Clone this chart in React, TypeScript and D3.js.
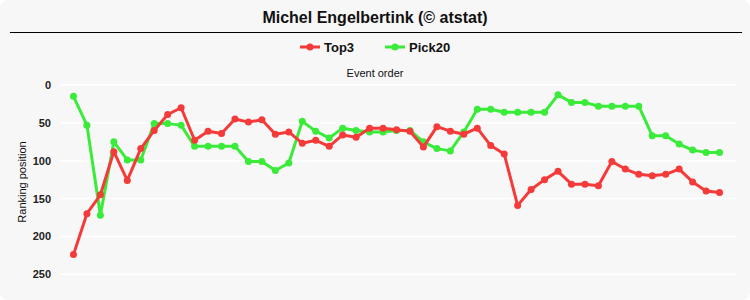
import React from "react";
import * as d3 from "d3";

const title = "Michel Engelbertink (© atstat)";
const seriesNames = ["Top3", "Pick20"];
const seriesColors = ["#f53a3a", "#3aeb3a"];
const yTicks = [0, 50, 100, 150, 200, 250];

const top3 = [224, 170, 145, 88, 126, 84, 60, 39, 30, 73, 61, 64, 45, 49, 46, 65, 62, 77, 73, 81, 66, 69, 57, 57, 59, 61, 82, 55, 61, 65, 57, 80, 91, 159, 138, 125, 114, 131, 131, 133, 101, 111, 118, 120, 118, 111, 128, 140, 142];
const pick20 = [15, 53, 172, 75, 99, 99, 51, 51, 53, 81, 81, 81, 81, 101, 101, 113, 103, 48, 61, 70, 57, 60, 62, 62, 60, 60, 75, 84, 87, 62, 32, 32, 36, 36, 36, 36, 13, 23, 23, 28, 28, 28, 28, 67, 67, 78, 86, 89, 89];

export default function App() {
  const W = 750, H = 300;
  const left = 60, right = 733, top = 85, bottom = 274.3;
  const idx = d3.range(top3.length);
  const x = d3.scalePoint<number>().domain(idx).range([left, right]).padding(1);
  const y = d3.scaleLinear().domain([0, 250]).range([top, bottom]);
  const line = d3.line<number>().x((_, i) => x(i) as number).y((d) => y(d));
  const series = [top3, pick20];
  const font = "'Liberation Sans', Arial, sans-serif";
  return (
    <svg width={W} height={H} style={{ position: "absolute", left: 0, top: 0, display: "block" }} fontFamily={font}>
      <rect x={0} y={0} width={W} height={H} fill="#ffffff" />
      <rect x={0} y={0} width={W} height={H} rx={8} ry={8} fill="#f7f7f7" />
      <text x={375} y={23} textAnchor="middle" fontSize={16} fontWeight="bold" fill="#111">{title}</text>
      <line x1={10} x2={742} y1={32.5} y2={32.5} stroke="#000" strokeWidth={1} />
      {seriesNames.map((n, i) => {
        const lx = i === 0 ? 300 : 385;
        return (
          <g key={n}>
            <line x1={lx} x2={lx + 20} y1={47} y2={47} stroke={seriesColors[i]} strokeWidth={3} />
            <circle cx={lx + 10} cy={47} r={3.5} fill={seriesColors[i]} />
            <text x={lx + 24} y={52} fontSize={13} fontWeight="bold" fill="#111">{n}</text>
          </g>
        );
      })}
      <text x={375} y={77} textAnchor="middle" fontSize={11} fill="#111">Event order</text>
      {yTicks.map((t) => (
        <g key={t}>
          <line x1={left} x2={736} y1={y(t)} y2={y(t)} stroke="#ffffff" strokeWidth={1.5} />
          <text x={51} y={y(t) + 4} textAnchor="end" fontSize={11} fontWeight="bold" fill="#222">{t}</text>
        </g>
      ))}
      <text transform={`translate(26,182) rotate(-90)`} textAnchor="middle" fontSize={11} fill="#111">Ranking position</text>
      {[1, 0].map((si) => (
        <g key={si}>
          <path d={line(series[si]) || ""} fill="none" stroke={seriesColors[si]} strokeWidth={3} strokeLinejoin="round" />
          {series[si].map((v, i) => (
            <circle key={i} cx={x(i) as number} cy={y(v)} r={3.5} fill={seriesColors[si]} />
          ))}
        </g>
      ))}
    </svg>
  );
}
